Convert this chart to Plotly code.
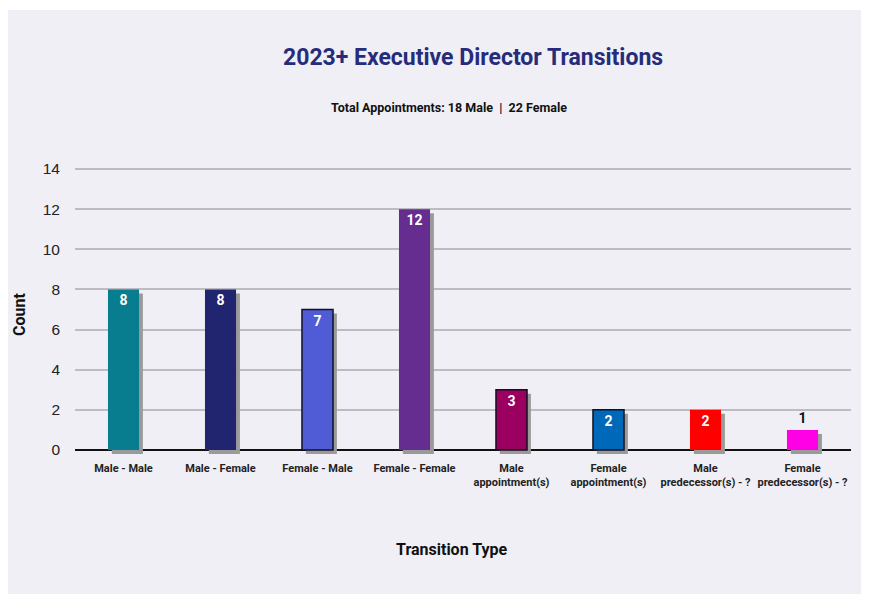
import plotly.graph_objects as go

categories = ["Male - Male", "Male - Female", "Female - Male", "Female - Female",
              "Male<br>appointment(s)", "Female<br>appointment(s)",
              "Male<br>predecessor(s) - ?", "Female<br>predecessor(s) - ?"]
counts = [8, 8, 7, 12, 3, 2, 2, 1]
bar_colors = ["#077d8f", "#212570", "#505bd6", "#652d90", "#9b0060", "#0068b8", "#ff0000", "#ff00e6"]
outline_w = [0, 0, 1.5, 0, 1.5, 1.5, 0, 0]
label_pos = ["inside"] * 7 + ["outside"]
y_ticks = [0, 2, 4, 6, 8, 10, 12, 14]

COND = "Roboto, Liberation Sans, Arial, sans-serif"
OFF = 8  # page body margin
W, H = 869 - OFF, 597 - OFF
L, R, T, B = 67, 18, 151, 137
pw, ph = W - L - R, H - T - B


def px(xabs):
    return (xabs - OFF - L) / pw


def py(yabs):
    return (H - B - (yabs - OFF)) / ph


fig = go.Figure()
# drop shadows
fig.add_trace(go.Bar(
    x=categories, y=counts, base=-0.2, width=0.32, offset=-0.12,
    marker=dict(color="#9a9a9a", line=dict(width=0)),
    hoverinfo="skip", showlegend=False,
))
fig.add_trace(go.Bar(
    x=categories, y=counts, width=0.32, offset=-0.16,
    marker=dict(color=bar_colors, line=dict(width=outline_w, color="#111122")),
    text=["<b>%d</b>" % c for c in counts], textposition=label_pos,
    insidetextanchor="end", cliponaxis=False,
    insidetextfont=dict(family=COND, size=14, color="white"),
    outsidetextfont=dict(family=COND, size=15, color="#111111"),
    showlegend=False,
))

fig.update_layout(
    width=W, height=H, barmode="overlay",
    margin=dict(l=L, r=R, t=T, b=B, autoexpand=False),
    paper_bgcolor="white", plot_bgcolor="rgba(0,0,0,0)",
    uniformtext=dict(minsize=8, mode="show"),
    shapes=[dict(type="rect", xref="paper", yref="paper", layer="below",
                 x0=px(8), x1=px(866), y0=py(594), y1=py(10),
                 fillcolor="#f0eff5", line=dict(width=0))],
    annotations=[
        dict(text="<b>2023+ Executive Director Transitions</b>", xref="paper", yref="paper",
             x=px(473), y=py(58), showarrow=False, xanchor="center", yanchor="middle",
             font=dict(family=COND, size=23, color="#262c7a")),
        dict(text="<b>Total Appointments: 18 Male  |  22 Female</b>", xref="paper", yref="paper",
             x=px(449), y=py(107), showarrow=False, xanchor="center", yanchor="middle",
             font=dict(family=COND, size=12.5, color="#111111")),
        dict(text="<b>Transition Type</b>", xref="paper", yref="paper",
             x=px(452), y=py(549), showarrow=False, xanchor="center", yanchor="middle",
             font=dict(family=COND, size=16, color="#111111")),
        dict(text="<b>Count</b>", xref="paper", yref="paper", textangle=-90,
             x=px(19), y=py(315), showarrow=False, xanchor="center", yanchor="middle",
             font=dict(family=COND, size=16, color="#111111")),
    ],
)
fig.update_xaxes(
    type="category", range=[-0.5, 7.5], showgrid=False, showline=False, ticks="",
    tickangle=0, automargin=False,
    tickfont=dict(family=COND, size=11, color="#222222"),
    tickprefix="<b>", ticksuffix="</b>",
)
fig.update_yaxes(
    range=[-0.5, 14.5], tickvals=y_ticks, showgrid=True, gridcolor="#bdbcc2", gridwidth=1.5,
    zeroline=True, zerolinecolor="#111111", zerolinewidth=2, showline=False, ticks="",
    automargin=False,
    tickfont=dict(family="Liberation Sans, Arial, sans-serif", size=15.5, color="#222222"),
    ticklabelstandoff=14,
)

fig.write_html("out.html")
